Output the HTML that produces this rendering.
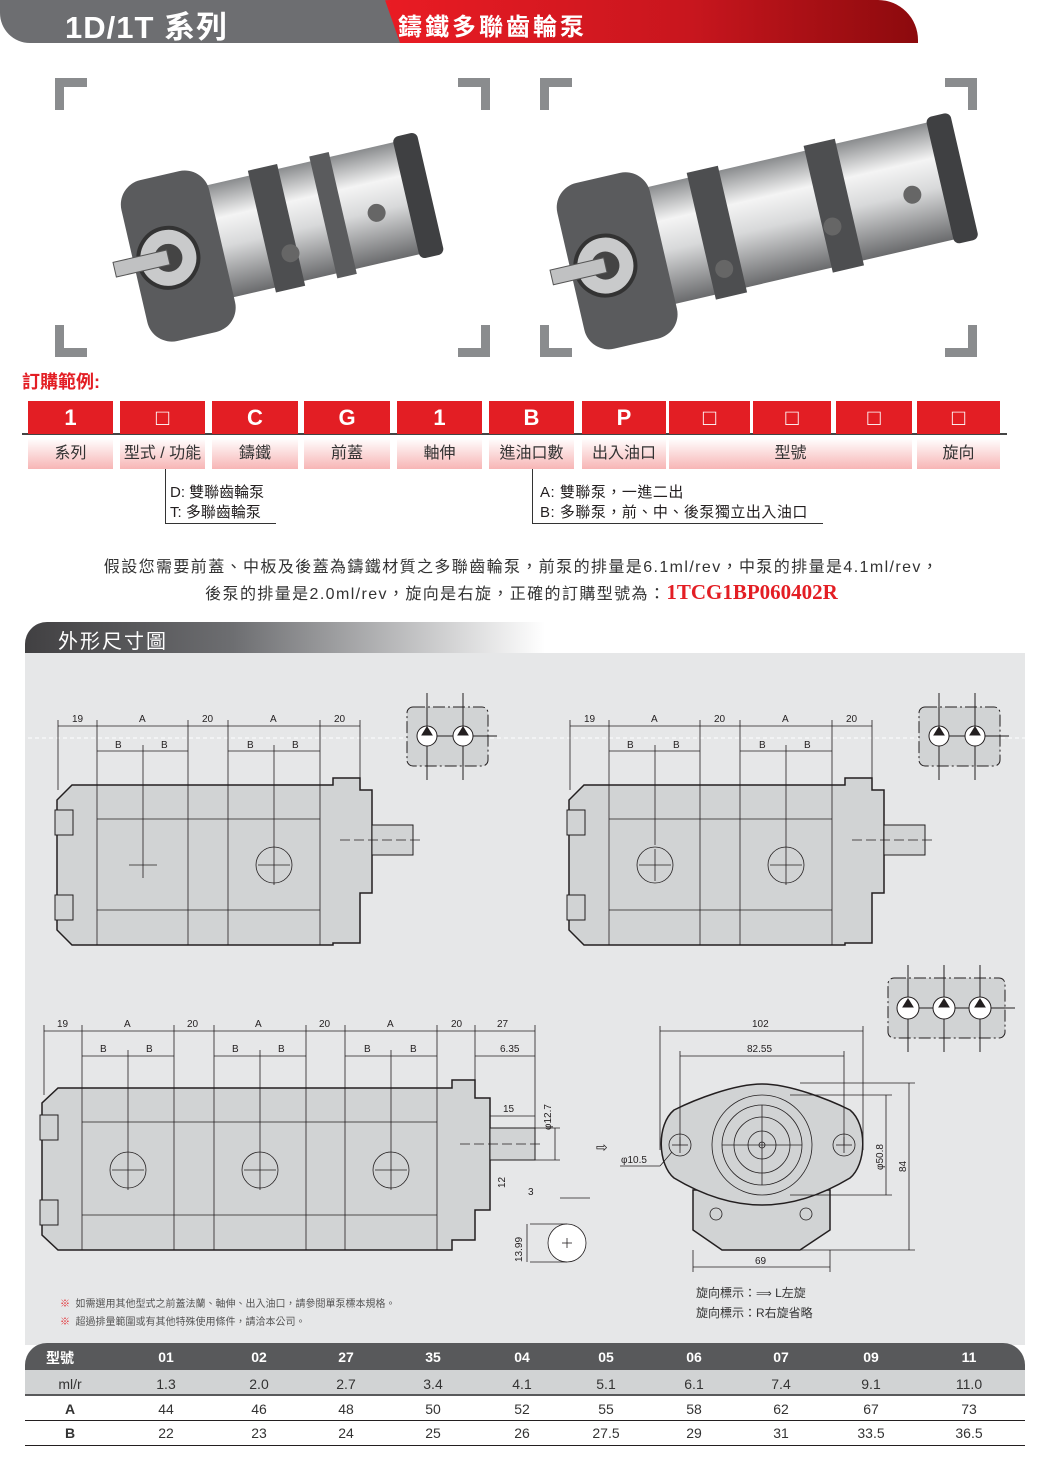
<!DOCTYPE html>
<html><head><meta charset="utf-8">
<style>
*{margin:0;padding:0;box-sizing:border-box}
body{width:1043px;height:1477px;background:#fff;position:relative;overflow:hidden;font-family:"Liberation Sans","Noto Sans CJK TC",sans-serif;color:#231f20}
.a{position:absolute}
.cb{position:absolute;top:401px;height:33px;background:#e31e24;color:#fff;font-weight:bold;font-size:22px;text-align:center;line-height:33px}
.lb{position:absolute;top:438px;height:31px;background:linear-gradient(#fff,#f7b5b5);font-size:16px;text-align:center;line-height:31px;color:#333}
.th{position:absolute;color:#fff;font-weight:bold;font-size:14px;text-align:center;width:60px}
.td{position:absolute;font-size:14px;text-align:center;width:60px;color:#333}
</style></head><body>
<!-- header -->
<div class="a" style="left:0;top:0;width:400px;height:43px;background:#6d6e71;border-radius:0 0 0 30px"></div>
<div class="a" style="left:350px;top:0;width:568px;height:43px;background:linear-gradient(90deg,#ed1c24,#c8161e 60%,#8c0a0d);border-radius:40px 40px 0 0;clip-path:polygon(35px 0,100% 0,100% 100%,50px 100%)"></div>
<div class="a" style="left:65px;top:2px;color:#fff;font-size:31px;font-weight:bold;letter-spacing:1px">1D/1T 系列</div>
<div class="a" style="left:398px;top:7px;color:#fff;font-size:24px;font-weight:bold;letter-spacing:3px">鑄鐵多聯齒輪泵</div>

<!-- photos -->
<svg class="a" style="left:0;top:60px" width="1043" height="310" viewBox="0 60 1043 310">
<defs>
<linearGradient id="sv" x1="0" y1="0" x2="0" y2="1"><stop offset="0" stop-color="#8a8c8e"/><stop offset=".3" stop-color="#f4f4f4"/><stop offset=".55" stop-color="#d8d9da"/><stop offset="1" stop-color="#6a6b6d"/></linearGradient>
</defs>
<g fill="#8a8c8e">
<path d="M55 78h32v9h-23v23h-9z"/><path d="M458 78h32v32h-9v-23h-23z"/>
<path d="M55 325h9v23h23v9h-32z"/><path d="M490 325v32h-32v-9h23v-23z"/>
<path d="M540 78h32v9h-23v23h-9z"/><path d="M945 78h32v32h-9v-23h-23z"/>
<path d="M540 325h9v23h23v9h-32z"/><path d="M977 325v32h-32v-9h23v-23z"/>
</g>
<g transform="rotate(-13 280 230)">
<rect x="190" y="170" width="240" height="115" rx="10" fill="url(#sv)"/>
<rect x="262" y="165" width="30" height="125" fill="#4d4e50"/>
<rect x="325" y="165" width="20" height="125" fill="#5a5b5d"/>
<rect x="410" y="165" width="25" height="125" rx="6" fill="#3f4042"/>
<rect x="130" y="150" width="90" height="165" rx="25" fill="#5a5b5d"/>
<circle cx="165" cy="232" r="30" fill="#c9cacb" stroke="#333" stroke-width="4"/>
<circle cx="165" cy="232" r="14" fill="#444"/>
<rect x="110" y="224" width="55" height="15" fill="#c0c1c2" stroke="#555"/>
<circle cx="285" cy="255" r="9" fill="#666"/><circle cx="378" cy="235" r="9" fill="#666"/>
</g>
<g transform="rotate(-13 750 225)">
<rect x="625" y="165" width="340" height="120" rx="10" fill="url(#sv)"/>
<rect x="700" y="160" width="32" height="130" fill="#4d4e50"/>
<rect x="820" y="160" width="32" height="130" fill="#4d4e50"/>
<rect x="945" y="160" width="25" height="130" rx="6" fill="#3f4042"/>
<rect x="565" y="145" width="95" height="170" rx="25" fill="#5a5b5d"/>
<circle cx="600" cy="232" r="30" fill="#c9cacb" stroke="#333" stroke-width="4"/>
<circle cx="600" cy="232" r="14" fill="#444"/>
<rect x="545" y="224" width="55" height="15" fill="#c0c1c2" stroke="#555"/>
<circle cx="715" cy="262" r="9" fill="#666"/><circle cx="830" cy="245" r="9" fill="#666"/><circle cx="915" cy="232" r="9" fill="#666"/>
</g>
</svg>

<div class="a" style="left:22px;top:368px;color:#e31e24;font-size:18px;font-weight:bold">訂購範例:</div>
<div class="a" style="left:22px;top:433px;width:985px;height:2px;background:#444"></div>
<div class="cb" style="left:28px;width:85px">1</div>
<div class="cb" style="left:120px;width:85px">□</div>
<div class="cb" style="left:212px;width:86px">C</div>
<div class="cb" style="left:304px;width:86px">G</div>
<div class="cb" style="left:397px;width:85px">1</div>
<div class="cb" style="left:489px;width:85px">B</div>
<div class="cb" style="left:582px;width:84px">P</div>
<div class="cb" style="left:669px;width:81px">□</div>
<div class="cb" style="left:753px;width:78px">□</div>
<div class="cb" style="left:836px;width:76px">□</div>
<div class="cb" style="left:917px;width:83px">□</div>
<div class="lb" style="left:28px;width:85px">系列</div>
<div class="lb" style="left:120px;width:85px">型式 / 功能</div>
<div class="lb" style="left:212px;width:86px">鑄鐵</div>
<div class="lb" style="left:304px;width:86px">前蓋</div>
<div class="lb" style="left:397px;width:85px">軸伸</div>
<div class="lb" style="left:489px;width:85px">進油口數</div>
<div class="lb" style="left:582px;width:84px">出入油口</div>
<div class="lb" style="left:669px;width:243px">型號</div>
<div class="lb" style="left:917px;width:83px">旋向</div>
<div class="a" style="left:165px;top:469px;width:111px;height:55px;border-left:1px solid #333;border-bottom:1px solid #333"></div>
<div class="a" style="left:170px;top:483px;font-size:15px;line-height:20px">D: 雙聯齒輪泵<br>T: 多聯齒輪泵</div>
<div class="a" style="left:532px;top:469px;width:291px;height:55px;border-left:1px solid #333;border-bottom:1px solid #333"></div>
<div class="a" style="left:540px;top:483px;font-size:15px;line-height:20px;letter-spacing:.5px">A: 雙聯泵，一進二出<br>B: 多聯泵，前、中、後泵獨立出入油口</div>

<div class="a" style="left:0;width:1043px;top:556px;text-align:center;font-size:16px;letter-spacing:1.4px;line-height:24px;color:#333">假設您需要前蓋、中板及後蓋為鑄鐵材質之多聯齒輪泵，前泵的排量是6.1ml/rev，中泵的排量是4.1ml/rev，<br>後泵的排量是2.0ml/rev，旋向是右旋，正確的訂購型號為：<b style="color:#e31e24;font-family:'Liberation Serif',serif;font-size:21px;letter-spacing:0">1TCG1BP060402R</b></div>

<!-- section -->
<div class="a" style="left:25px;top:622px;width:520px;height:31px;background:linear-gradient(90deg,#414042,#6d6e71 40%,rgba(255,255,255,0));border-radius:22px 0 0 0"></div>
<div class="a" style="left:58px;top:625px;color:#fff;font-size:20px;letter-spacing:2px">外形尺寸圖</div>
<div class="a" style="left:25px;top:653px;width:1000px;height:692px;background:#e6e7e8"></div>

<svg class="a" style="left:0;top:0" width="1043" height="1477" font-family="Liberation Sans,sans-serif" font-size="10" fill="none" stroke="#231f20">
<line x1="0" y1="738" x2="1043" y2="738" stroke="#fff" stroke-dasharray="4 3"/>
<g id="d1">
<path d="M72 785H333V778H360V790H372V893H360V943H333V945H72L57 930V800Z" fill="#d1d3d4" stroke-width="1.5"/>
<rect x="55" y="810" width="18" height="25" fill="#d1d3d4"/><rect x="55" y="895" width="18" height="25" fill="#d1d3d4"/>
<rect x="372" y="825" width="41" height="30" fill="#d1d3d4"/>
<g stroke-width=".8"><line x1="97" y1="785" x2="97" y2="945"/><line x1="188" y1="785" x2="188" y2="945"/><line x1="228" y1="785" x2="228" y2="945"/><line x1="320" y1="785" x2="320" y2="945"/><line x1="97" y1="819" x2="320" y2="819"/><line x1="97" y1="910" x2="320" y2="910"/>
<line x1="340" y1="840" x2="420" y2="840" stroke-dasharray="10 4"/>
<line x1="58" y1="720" x2="58" y2="790"/><line x1="360" y1="720" x2="360" y2="778"/>
<line x1="97" y1="720" x2="97" y2="785"/><line x1="188" y1="720" x2="188" y2="785"/><line x1="228" y1="720" x2="228" y2="785"/><line x1="320" y1="720" x2="320" y2="785"/>
<line x1="58" y1="726" x2="360" y2="726"/><line x1="97" y1="751" x2="188" y2="751"/><line x1="228" y1="751" x2="320" y2="751"/>
<line x1="143" y1="745" x2="143" y2="878"/><line x1="274" y1="745" x2="274" y2="885"/>
<line x1="129" y1="865" x2="157" y2="865"/><circle cx="274" cy="865" r="18"/><line x1="258" y1="865" x2="290" y2="865"/>
</g>
<g fill="#231f20" stroke="none"><text x="72" y="722">19</text><text x="139" y="722">A</text><text x="202" y="722">20</text><text x="270" y="722">A</text><text x="334" y="722">20</text><text x="115" y="748">B</text><text x="161" y="748">B</text><text x="247" y="748">B</text><text x="292" y="748">B</text></g>
<rect x="407" y="707" width="81" height="59" rx="6" fill="#d1d3d4" stroke-dasharray="12 3 2 3"/>
<line x1="427" y1="693" x2="427" y2="780"/><line x1="463" y1="693" x2="463" y2="780"/><line x1="437" y1="736" x2="453" y2="736"/><line x1="473" y1="736" x2="497" y2="736"/>
<circle cx="427" cy="736" r="10" fill="#fff"/><circle cx="463" cy="736" r="10" fill="#fff"/>
<path d="M422 735L427 727L432 735Z M458 735L463 727L468 735Z" fill="#231f20"/>
</g>
<use href="#d1" x="512"/>
<rect x="630" y="845" width="50" height="40" fill="#d1d3d4" stroke="none"/>
<g stroke-width=".8"><circle cx="655" cy="865" r="18"/><line x1="639" y1="865" x2="671" y2="865"/><line x1="655" y1="849" x2="655" y2="881"/></g>

<!-- triple -->
<g>
<path d="M58 1088H452V1080H475V1098H490V1210H475V1240H452V1250H58L42 1235V1103Z" fill="#d1d3d4" stroke-width="1.5"/>
<rect x="40" y="1115" width="18" height="25" fill="#d1d3d4"/><rect x="40" y="1200" width="18" height="25" fill="#d1d3d4"/>
<rect x="490" y="1128" width="45" height="32" fill="#d1d3d4"/>
<g stroke-width=".8">
<line x1="82" y1="1088" x2="82" y2="1250"/><line x1="174" y1="1088" x2="174" y2="1250"/><line x1="214" y1="1088" x2="214" y2="1250"/><line x1="306" y1="1088" x2="306" y2="1250"/><line x1="345" y1="1088" x2="345" y2="1250"/><line x1="437" y1="1088" x2="437" y2="1250"/>
<line x1="82" y1="1122" x2="437" y2="1122"/><line x1="82" y1="1215" x2="437" y2="1215"/>
<line x1="44" y1="1025" x2="44" y2="1095"/><line x1="475" y1="1025" x2="475" y2="1080"/><line x1="535" y1="1025" x2="535" y2="1128"/>
<line x1="82" y1="1025" x2="82" y2="1088"/><line x1="174" y1="1025" x2="174" y2="1088"/><line x1="214" y1="1025" x2="214" y2="1088"/><line x1="306" y1="1025" x2="306" y2="1088"/><line x1="345" y1="1025" x2="345" y2="1088"/><line x1="437" y1="1025" x2="437" y2="1088"/>
<line x1="44" y1="1031" x2="535" y2="1031"/><line x1="82" y1="1056" x2="174" y2="1056"/><line x1="214" y1="1056" x2="306" y2="1056"/><line x1="345" y1="1056" x2="437" y2="1056"/><line x1="475" y1="1056" x2="535" y2="1056"/>
<line x1="490" y1="1116" x2="535" y2="1116"/><line x1="555" y1="1128" x2="555" y2="1160"/><line x1="535" y1="1128" x2="560" y2="1128"/><line x1="535" y1="1160" x2="560" y2="1160"/>
<line x1="128" y1="1050" x2="128" y2="1190"/><line x1="260" y1="1050" x2="260" y2="1190"/><line x1="391" y1="1050" x2="391" y2="1190"/>
<line x1="460" y1="1144" x2="540" y2="1144" stroke-dasharray="10 4"/>
<circle cx="128" cy="1170" r="18"/><circle cx="260" cy="1170" r="18"/><circle cx="391" cy="1170" r="18"/>
<line x1="112" y1="1170" x2="144" y2="1170"/><line x1="244" y1="1170" x2="276" y2="1170"/><line x1="375" y1="1170" x2="407" y2="1170"/>
<circle cx="567" cy="1243" r="19" fill="#fff"/><line x1="562" y1="1243" x2="572" y2="1243"/><line x1="567" y1="1238" x2="567" y2="1248"/>
<line x1="530" y1="1224" x2="567" y2="1224"/><line x1="530" y1="1262" x2="567" y2="1262"/><line x1="527" y1="1224" x2="527" y2="1262"/><line x1="560" y1="1198" x2="590" y2="1198"/>
</g>
<g fill="#231f20" stroke="none"><text x="57" y="1027">19</text><text x="124" y="1027">A</text><text x="187" y="1027">20</text><text x="255" y="1027">A</text><text x="319" y="1027">20</text><text x="387" y="1027">A</text><text x="451" y="1027">20</text><text x="497" y="1027">27</text>
<text x="100" y="1052">B</text><text x="146" y="1052">B</text><text x="232" y="1052">B</text><text x="278" y="1052">B</text><text x="364" y="1052">B</text><text x="410" y="1052">B</text><text x="500" y="1052">6.35</text><text x="503" y="1112">15</text><text x="528" y="1195">3</text>
<text transform="translate(551 1130) rotate(-90)">φ12.7</text><text transform="translate(505 1188) rotate(-90)">12</text><text transform="translate(522 1262) rotate(-90)">13.99</text></g>
</g>

<!-- front view -->
<g>
<text x="596" y="1152" fill="#231f20" stroke="none" font-size="14">⇨</text>
<path d="M693 1190H830V1230L800 1250H722L693 1230Z" fill="#d1d3d4" stroke-width="1.5"/>
<path d="M762 1084C790 1084 830 1100 850 1110C868 1125 866 1165 850 1178C820 1196 790 1205 762 1205C734 1205 704 1196 674 1178C658 1165 656 1125 674 1110C694 1100 734 1084 762 1084Z" fill="#d1d3d4" stroke-width="1.5"/>
<g stroke-width=".8">
<circle cx="762" cy="1145" r="50"/><circle cx="762" cy="1145" r="40"/><circle cx="762" cy="1145" r="28"/><circle cx="762" cy="1145" r="14"/><circle cx="762" cy="1145" r="3"/>
<line x1="722" y1="1145" x2="802" y2="1145"/><line x1="762" y1="1105" x2="762" y2="1185"/>
<circle cx="680" cy="1145" r="11"/><line x1="672" y1="1145" x2="688" y2="1145"/><line x1="680" y1="1137" x2="680" y2="1153"/>
<circle cx="844" cy="1145" r="11"/><line x1="836" y1="1145" x2="852" y2="1145"/><line x1="844" y1="1137" x2="844" y2="1153"/>
<circle cx="716" cy="1214" r="6"/><circle cx="806" cy="1214" r="6"/>
<line x1="660" y1="1026" x2="660" y2="1150"/><line x1="863" y1="1026" x2="863" y2="1150"/><line x1="660" y1="1031" x2="863" y2="1031"/>
<line x1="680" y1="1051" x2="680" y2="1145"/><line x1="844" y1="1051" x2="844" y2="1145"/><line x1="680" y1="1056" x2="844" y2="1056"/>
<line x1="693" y1="1250" x2="693" y2="1272"/><line x1="830" y1="1250" x2="830" y2="1272"/><line x1="693" y1="1267" x2="830" y2="1267"/>
<line x1="800" y1="1083" x2="915" y2="1083"/><line x1="800" y1="1250" x2="915" y2="1250"/><line x1="909" y1="1083" x2="909" y2="1250"/>
<line x1="790" y1="1095" x2="892" y2="1095"/><line x1="790" y1="1195" x2="892" y2="1195"/><line x1="886" y1="1095" x2="886" y2="1195"/>
<line x1="620" y1="1166" x2="660" y2="1166"/><line x1="660" y1="1166" x2="672" y2="1152"/>
</g>
<g fill="#231f20" stroke="none"><text x="752" y="1027">102</text><text x="747" y="1052">82.55</text><text x="755" y="1264">69</text><text x="621" y="1163">φ10.5</text>
<text transform="translate(883 1170) rotate(-90)">φ50.8</text><text transform="translate(906 1172) rotate(-90)">84</text></g>
<rect x="888" y="978" width="117" height="60" rx="6" fill="#d1d3d4" stroke-dasharray="12 3 2 3"/>
<line x1="908" y1="965" x2="908" y2="1052"/><line x1="944" y1="965" x2="944" y2="1052"/><line x1="980" y1="965" x2="980" y2="1052"/><line x1="918" y1="1008" x2="1015" y2="1008"/>
<circle cx="908" cy="1008" r="11" fill="#fff"/><circle cx="944" cy="1008" r="11" fill="#fff"/><circle cx="980" cy="1008" r="11" fill="#fff"/>
<path d="M903 1007L908 999L913 1007Z M939 1007L944 999L949 1007Z M975 1007L980 999L985 1007Z" fill="#231f20"/>
</g>
</svg>
<div class="a" style="left:696px;top:1284px;font-size:12px;line-height:19px;color:#333">旋向標示：<span style="font-size:11px">⟹</span> L左旋<br>旋向標示：R右旋省略</div>
<div class="a" style="left:60px;top:1296px;font-size:10px;line-height:18px;color:#555"><span style="color:#e31e24">※</span>&nbsp; 如需選用其他型式之前蓋法蘭、軸伸、出入油口，請參閱單泵標本規格。<br><span style="color:#e31e24">※</span>&nbsp; 超過排量範圍或有其他特殊使用條件，請洽本公司。</div>

<!-- table -->
<div class="a" style="left:25px;top:1343px;width:1000px;height:27px;background:#58595b;border-radius:22px 22px 0 0"></div>
<div class="a" style="left:25px;top:1370px;width:1000px;height:26px;background:#d1d3d4;border-bottom:2px solid #58595b"></div>
<div class="a" style="left:25px;top:1420px;width:1000px;height:1px;background:#231f20"></div>
<div class="a" style="left:25px;top:1445px;width:1000px;height:1px;background:#231f20"></div>
<div class="th" style="left:30px;top:1348px">型號</div>
<div class="th" style="left:136px;top:1349px">01</div><div class="th" style="left:229px;top:1349px">02</div><div class="th" style="left:316px;top:1349px">27</div><div class="th" style="left:403px;top:1349px">35</div><div class="th" style="left:492px;top:1349px">04</div><div class="th" style="left:576px;top:1349px">05</div><div class="th" style="left:664px;top:1349px">06</div><div class="th" style="left:751px;top:1349px">07</div><div class="th" style="left:841px;top:1349px">09</div><div class="th" style="left:939px;top:1349px">11</div>
<div class="td" style="left:40px;top:1376px">ml/r</div>
<div class="td" style="left:136px;top:1376px">1.3</div><div class="td" style="left:229px;top:1376px">2.0</div><div class="td" style="left:316px;top:1376px">2.7</div><div class="td" style="left:403px;top:1376px">3.4</div><div class="td" style="left:492px;top:1376px">4.1</div><div class="td" style="left:576px;top:1376px">5.1</div><div class="td" style="left:664px;top:1376px">6.1</div><div class="td" style="left:751px;top:1376px">7.4</div><div class="td" style="left:841px;top:1376px">9.1</div><div class="td" style="left:939px;top:1376px">11.0</div>
<div class="td" style="left:40px;top:1401px;font-weight:bold">A</div>
<div class="td" style="left:136px;top:1401px">44</div><div class="td" style="left:229px;top:1401px">46</div><div class="td" style="left:316px;top:1401px">48</div><div class="td" style="left:403px;top:1401px">50</div><div class="td" style="left:492px;top:1401px">52</div><div class="td" style="left:576px;top:1401px">55</div><div class="td" style="left:664px;top:1401px">58</div><div class="td" style="left:751px;top:1401px">62</div><div class="td" style="left:841px;top:1401px">67</div><div class="td" style="left:939px;top:1401px">73</div>
<div class="td" style="left:40px;top:1425px;font-weight:bold">B</div>
<div class="td" style="left:136px;top:1425px">22</div><div class="td" style="left:229px;top:1425px">23</div><div class="td" style="left:316px;top:1425px">24</div><div class="td" style="left:403px;top:1425px">25</div><div class="td" style="left:492px;top:1425px">26</div><div class="td" style="left:576px;top:1425px">27.5</div><div class="td" style="left:664px;top:1425px">29</div><div class="td" style="left:751px;top:1425px">31</div><div class="td" style="left:841px;top:1425px">33.5</div><div class="td" style="left:939px;top:1425px">36.5</div>
</body></html>
